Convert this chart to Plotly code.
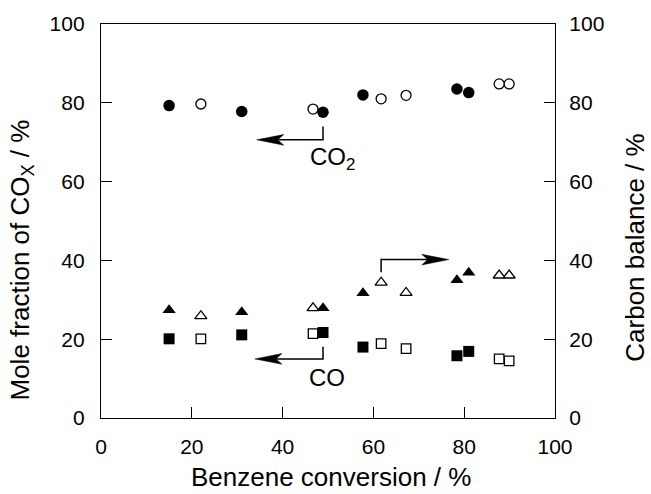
import plotly.graph_objects as go

# Benzene conversion (%) for the two groups of runs
conv_filled = [15.0, 31.0, 48.9, 57.7, 78.4, 81.0]
conv_open = [22.0, 46.7, 61.7, 67.2, 87.7, 89.9]

# Mole fraction of CO2 and CO in COx (%)
co2_filled = [79.3, 77.8, 77.6, 82.0, 83.5, 82.6]
co2_open = [79.7, 78.4, 81.0, 81.9, 84.8, 84.8]
co_filled = [20.1, 21.1, 21.7, 18.0, 15.8, 16.9]
co_open = [20.1, 21.4, 18.9, 17.6, 15.0, 14.5]

# Carbon balance (%)
cb_filled = [27.4, 26.9, 27.9, 31.7, 35.0, 36.9]
cb_open = [25.9, 27.9, 34.4, 31.8, 36.2, 36.2]

tick_vals = [0, 20, 40, 60, 80, 100]

FONT = "Liberation Sans, Arial, Helvetica, sans-serif"
BLACK = "#000000"

fig = go.Figure()


def add_points(x, y, symbol, size, filled, yaxis="y"):
    # open symbols are painted with a white face so later points sit on top
    xs, ys = (x, y) if filled else (x[::-1], y[::-1])
    fig.add_trace(go.Scatter(
        x=xs, y=ys, mode="markers", yaxis=yaxis, showlegend=False,
        marker=dict(
            symbol=symbol, size=size,
            color=BLACK if filled else "white",
            line=dict(color=BLACK, width=0 if filled else 1.3),
        ),
    ))


# open markers first, filled markers drawn over them
add_points(conv_open, co2_open, "circle", 10, False)
add_points(conv_open, co_open, "square", 9.5, False)
add_points(conv_open, cb_open, "triangle-up", 10.5, False, "y2")
add_points(conv_filled, co2_filled, "circle", 11.5, True)
add_points(conv_filled, co_filled, "square", 11, True)
add_points(conv_filled, cb_filled, "triangle-up", 11.5, True, "y2")

# bracket arrows pointing each group to its axis: (bend x, start y, end y, tip x)
arrows = [
    (48.9, 74.0, 70.6, 34.3),   # CO2 -> left axis
    (48.9, 18.1, 15.0, 33.9),   # CO  -> left axis
    (61.7, 37.0, 40.2, 76.6),   # carbon balance -> right axis
]
shapes = []
for bx, y0, y1, tx in arrows:
    d = 1 if tx < bx else -1
    shapes.append(dict(
        type="path", xref="x", yref="y",
        path=f"M{bx},{y0} L{bx},{y1} L{tx + d * 4},{y1}",
        line=dict(color=BLACK, width=1.5),
    ))
    shapes.append(dict(
        type="path", xref="x", yref="y",
        xsizemode="pixel", ysizemode="pixel", xanchor=tx, yanchor=y1,
        path=f"M0,0 L{d * 27},5.3 L{d * 21},0 L{d * 27},-5.3 Z",
        fillcolor=BLACK, line=dict(color=BLACK, width=0.5),
    ))

annotations = [
    dict(x=45.5, y=65.8, xref="x", yref="y", text="CO<sub>2</sub>",
         showarrow=False, xanchor="left", yanchor="middle",
         font=dict(family=FONT, size=24, color=BLACK)),
    dict(x=45.3, y=10.2, xref="x", yref="y", text="CO",
         showarrow=False, xanchor="left", yanchor="middle",
         font=dict(family=FONT, size=24, color=BLACK)),
    dict(x=0.507, y=-0.149, xref="paper", yref="paper",
         text="Benzene conversion / %", showarrow=False,
         xanchor="center", yanchor="middle",
         font=dict(family=FONT, size=26, color=BLACK)),
    dict(x=-0.176, y=0.40, xref="paper", yref="paper",
         text="Mole fraction of CO<sub>X</sub> / %", showarrow=False,
         textangle=-90, xanchor="center", yanchor="middle",
         font=dict(family=FONT, size=26, color=BLACK)),
    dict(x=1.176, y=0.432, xref="paper", yref="paper",
         text="Carbon balance / %", showarrow=False,
         textangle=-90, xanchor="center", yanchor="middle",
         font=dict(family=FONT, size=26, color=BLACK)),
]

axis_common = dict(
    range=[0, 100], tickvals=tick_vals, ticks="inside", ticklen=11,
    tickwidth=1.3, tickcolor=BLACK, showgrid=False, zeroline=False,
    showline=True, linecolor=BLACK, linewidth=1.3,
    tickfont=dict(family=FONT, size=21, color=BLACK),
)

fig.update_layout(
    width=651, height=494,
    margin=dict(l=101, r=96, t=24, b=76),
    paper_bgcolor="white", plot_bgcolor="white",
    xaxis=dict(**axis_common, mirror=True, ticklabelstandoff=10),
    yaxis=dict(**axis_common, ticklabelstandoff=11),
    yaxis2=dict(**axis_common, overlaying="y", side="right",
                ticklabelstandoff=9),
    shapes=shapes, annotations=annotations,
)

fig.write_html("out.html")
